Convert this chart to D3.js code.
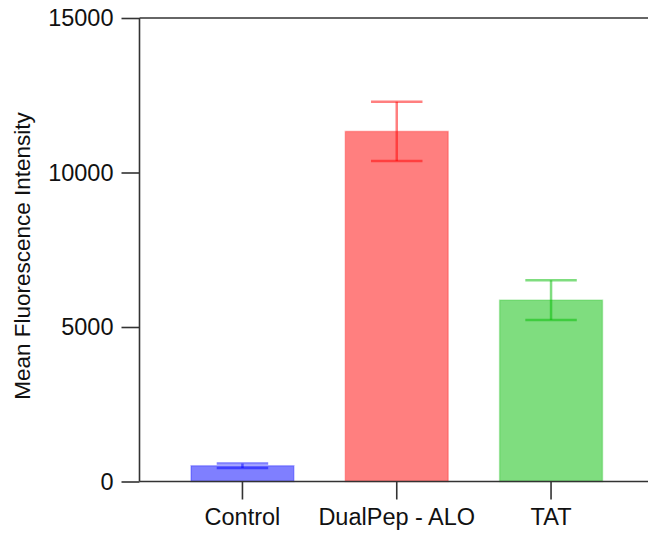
<!DOCTYPE html>
<html>
<head>
<meta charset="utf-8">
<script src="https://cdn.jsdelivr.net/npm/d3@7"></script>
<style>
  html, body { margin: 0; padding: 0; background: #fff; }
  svg { display: block; font-family: "Liberation Sans", Arial, sans-serif; }
</style>
</head>
<body>
<svg id="chart" width="648" height="535"></svg>
<script>
const categories = ["Control", "DualPep - ALO", "TAT"];
const means = [510, 11330, 5870];
const errors = [70, 960, 640];
const colors = ["#0000ff", "#ff0000", "#00bb00"];
const yTicks = [0, 5000, 10000, 15000];
const yTitle = "Mean Fluorescence Intensity";

(function () {
const svg = d3.select("#chart");
const axisColor = "#333";
const leftX = 139.5, topY = 18, bottomY = 481.5, rightEdge = 648;

const y = d3.scaleLinear().domain([0, 15000]).range([bottomY, topY]);
const x = d3.scaleBand().domain(categories).range([139, 654.5])
  .paddingInner(0.333).paddingOuter(0.337);

// bars
const g = svg.append("g");
categories.forEach((c, i) => {
  const bx = x(c), bw = x.bandwidth();
  g.append("rect")
    .attr("x", bx).attr("y", y(means[i]))
    .attr("width", bw).attr("height", y(0) - y(means[i]))
    .attr("fill", colors[i]).attr("fill-opacity", 0.5)
    .attr("stroke", colors[i]).attr("stroke-opacity", 0.25).attr("stroke-width", 1.5);
});

// error bars
categories.forEach((c, i) => {
  const cx = x(c) + x.bandwidth() / 2;
  const capW = x.bandwidth() / 2;
  const hi = y(means[i] + errors[i]), lo = y(means[i] - errors[i]);
  const eg = g.append("g").attr("stroke", colors[i]).attr("stroke-opacity", 0.5).attr("stroke-width", 2.5);
  eg.append("line").attr("x1", cx).attr("x2", cx).attr("y1", hi).attr("y2", lo);
  eg.append("line").attr("x1", cx - capW / 2).attr("x2", cx + capW / 2).attr("y1", hi).attr("y2", hi);
  eg.append("line").attr("x1", cx - capW / 2).attr("x2", cx + capW / 2).attr("y1", lo).attr("y2", lo);
});

// y axis
const yAxis = d3.axisLeft(y).tickValues(yTicks).tickSize(18).tickPadding(8).tickFormat(d3.format("d"));
const ya = svg.append("g").attr("transform", `translate(${leftX},0)`).call(yAxis);
ya.select(".domain").remove();
ya.selectAll(".tick line").attr("stroke", axisColor).attr("stroke-width", 1.6);
ya.selectAll(".tick text").attr("font-size", 23.5).attr("fill", "#111")
  .attr("font-family", "'Liberation Sans', Arial, sans-serif");

svg.append("line").attr("x1", leftX).attr("x2", leftX).attr("y1", topY).attr("y2", bottomY)
  .attr("stroke", axisColor).attr("stroke-width", 1.6);
[topY, bottomY].forEach(yy => {
  svg.append("line").attr("x1", leftX).attr("x2", rightEdge).attr("y1", yy).attr("y2", yy)
    .attr("stroke", axisColor).attr("stroke-width", 1.6);
});

// x axis
const xAxis = d3.axisBottom(x).tickSize(18).tickPadding(9);
const xa = svg.append("g").attr("transform", `translate(0,${bottomY})`).call(xAxis);
xa.select(".domain").remove();
xa.selectAll(".tick line").attr("stroke", axisColor).attr("stroke-width", 1.6);
xa.selectAll(".tick text").attr("font-size", 23.5).attr("fill", "#111")
  .attr("font-family", "'Liberation Sans', Arial, sans-serif");

// y title
svg.append("text")
  .attr("transform", `translate(30,256) rotate(-90)`)
  .attr("text-anchor", "middle")
  .attr("font-size", 22.5).attr("fill", "#111")
  .text(yTitle);
})();
</script>
</body>
</html>
